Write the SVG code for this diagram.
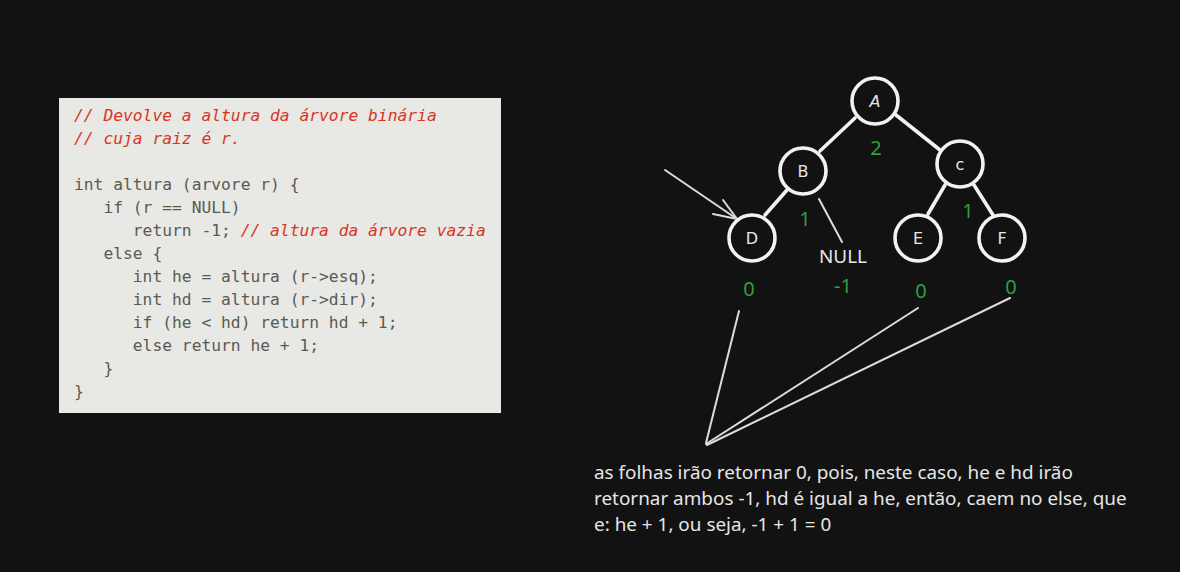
<svg xmlns="http://www.w3.org/2000/svg" width="1180" height="572" viewBox="0 0 1180 572">
<defs>
<style>
.code{font-family:"DejaVu Sans Mono","Liberation Mono",monospace;font-size:16.3px;fill:#5a5a54;white-space:pre}
.cm{fill:#d9341f;font-style:italic}
.node circle{fill:#121212;stroke:#f2f2f2;stroke-width:3.6}
.node text{font-family:"DejaVu Sans",sans-serif;font-size:16px;fill:#e6e6e6;text-anchor:middle}
.edge{stroke:#f2f2f2;stroke-width:3.6;stroke-linecap:round;fill:none}
.thin{stroke:#dcdcdc;stroke-width:2;stroke-linecap:round;fill:none}
.g{font-family:"Noto Sans","Open Sans",sans-serif;font-size:20px;fill:#2f9e44;text-anchor:middle}
.w{font-family:"Noto Sans","Open Sans",sans-serif;font-size:18.9px;fill:#e6e6e6}
</style>
</defs>
<rect width="1180" height="572" fill="#121212"/>
<g id="code">
<rect x="59" y="98" width="442" height="315" fill="#e8e8e4"/>
<text class="code" x="74" y="121"><tspan class="cm">// Devolve a altura da árvore binária</tspan></text>
<text class="code" x="74" y="144"><tspan class="cm">// cuja raiz é r.</tspan></text>
<text class="code" x="74" y="190">int altura (arvore r) {</text>
<text class="code" x="74" y="213">   if (r == NULL)</text>
<text class="code" x="74" y="236">      return -1; <tspan class="cm">// altura da árvore vazia</tspan></text>
<text class="code" x="74" y="259">   else {</text>
<text class="code" x="74" y="282">      int he = altura (r-&gt;esq);</text>
<text class="code" x="74" y="305">      int hd = altura (r-&gt;dir);</text>
<text class="code" x="74" y="328">      if (he &lt; hd) return hd + 1;</text>
<text class="code" x="74" y="351">      else return he + 1;</text>
<text class="code" x="74" y="374">   }</text>
<text class="code" x="74" y="397">}</text>
</g>
<g id="connectors">
<line class="edge" x1="855" y1="118" x2="820" y2="151"/>
<line class="edge" x1="896" y1="115" x2="940" y2="150"/>
<line class="edge" x1="787" y1="190" x2="765" y2="215"/>
<line class="edge" x1="945" y1="185" x2="928" y2="214"/>
<line class="edge" x1="974" y1="185" x2="993" y2="215"/>
<line class="thin" x1="819" y1="199" x2="842" y2="242"/>
<line class="thin" x1="665" y1="170" x2="737" y2="219"/>
<polyline class="thin" points="723,200 737,219 713,214"/>
<line class="thin" x1="739" y1="311" x2="706" y2="443"/>
<line class="thin" x1="918" y1="308" x2="706" y2="444"/>
<line class="thin" x1="1010" y1="298" x2="707" y2="445"/>
</g>
<g id="node-A" class="node"><circle cx="875" cy="101" r="23"/><text x="875" y="107" font-style="italic">A</text></g>
<g id="node-B" class="node"><circle cx="803" cy="171" r="23"/><text x="803" y="177">B</text></g>
<g id="node-C" class="node"><circle cx="960" cy="164" r="23"/><text x="960" y="170">c</text></g>
<g id="node-D" class="node"><circle cx="752" cy="238" r="23"/><text x="752" y="244">D</text></g>
<g id="node-E" class="node"><circle cx="918" cy="238" r="23"/><text x="918" y="244">E</text></g>
<g id="node-F" class="node"><circle cx="1002" cy="238" r="23"/><text x="1002" y="244">F</text></g>
<g id="labels">
<text class="g" x="876" y="155">2</text>
<text class="g" x="805" y="226">1</text>
<text class="g" x="968" y="218">1</text>
<text class="g" x="749" y="296">0</text>
<text class="g" x="843" y="293">-1</text>
<text class="g" x="921" y="298">0</text>
<text class="g" x="1011" y="294">0</text>
<text class="w" x="843" y="263" text-anchor="middle">NULL</text>
<text class="w" x="594" y="479">as folhas irão retornar 0, pois, neste caso, he e hd irão</text>
<text class="w" x="594" y="505">retornar ambos -1, hd é igual a he, então, caem no else, que</text>
<text class="w" x="594" y="531">e: he + 1, ou seja, -1 + 1 = 0</text>
</g>
</svg>
